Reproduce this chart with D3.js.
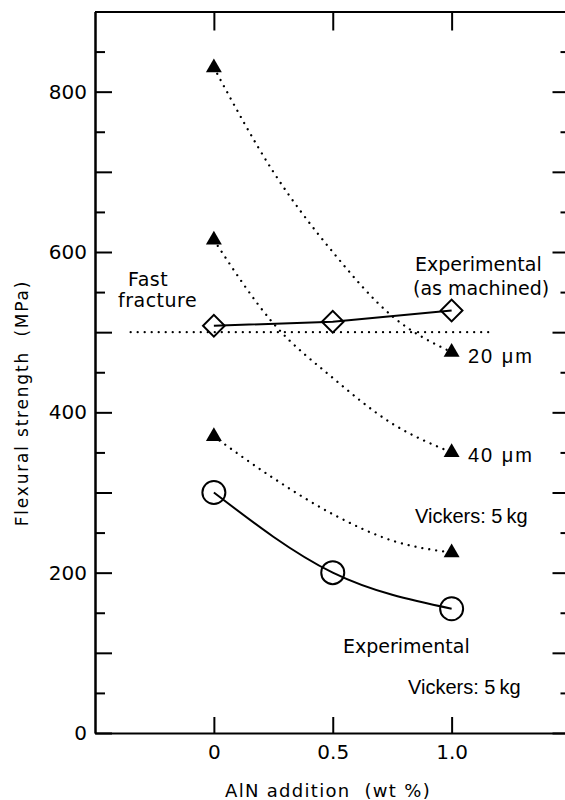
<!DOCTYPE html>
<html>
<head>
<meta charset="utf-8">
<script src="https://cdn.jsdelivr.net/npm/d3@7"></script>
<style>
  html, body { margin: 0; padding: 0; background: #fff; }
  svg { display: block; }
  .axis path, .axis line { stroke: #000; stroke-width: 2; }
  .axis text { font-family: "DejaVu Sans", sans-serif; font-size: 20px; fill: #000; }
  .lbl { font-family: "DejaVu Sans", sans-serif; font-size: 19px; fill: #000; }
  .hel { font-family: "Liberation Sans", Arial, sans-serif; font-size: 20px; fill: #000; }
</style>
</head>
<body>
<svg id="chart" width="565" height="800"></svg>
<script>
// AlN addition (wt %) at which specimens were tested
const aln = [0, 0.5, 1.0];
const xTickValues = [0, 0.5, 1.0];
const xTickLabels = ["0", "0.5", "1.0"];
const yLabelValues = [0, 200, 400, 600, 800];

// Measured flexural strength (MPa)
const machined = [508, 513, 527];        // as machined
const indented = [300, 200, 155];        // Vickers 5 kg indented

// Predicted strength with a surface flaw (MPa), end points at 0 and 1.0 wt %
const flawX = [0, 1.0];
const flaw20 = [830, 475];
const flaw40 = [615, 350];
const flawVickers = [370, 225];

// Traced points along the predicted curves
const traceX = [0, 0.25, 0.5, 0.75, 1.0];
const trace20 = [830, 700, 600, 520, 475];
const trace40 = [615, 511, 443, 386, 350];
const traceVickers = [370, 318, 273, 240, 225];

// Fast fracture reference level
const fastFracture = 500;
const fastFractureSpan = [-0.35, 1.18];

const svg = d3.select("#chart");

const x = d3.scaleLinear().domain([-0.5, 1.5]).range([95, 570.5]);
const y = d3.scaleLinear().domain([0, 900]).range([733, 11.5]);

const major = d3.range(0, 901, 100);
const minor = d3.range(50, 900, 100);

// left axis: long ticks every 100, short every 50, labels every 200
svg.append("g").attr("class", "axis")
  .attr("transform", `translate(${x(-0.5)},0)`)
  .call(d3.axisLeft(y).tickValues(major).tickSizeInner(-17).tickSizeOuter(0).tickPadding(8)
    .tickFormat(d => yLabelValues.includes(d) ? d : ""));
svg.append("g").attr("class", "axis")
  .attr("transform", `translate(${x(-0.5)},0)`)
  .call(d3.axisLeft(y).tickValues(minor).tickSizeInner(-10).tickSizeOuter(0).tickFormat(""));

// right axis (mirror ticks)
svg.append("g").attr("class", "axis")
  .attr("transform", `translate(${x(1.5)},0)`)
  .call(d3.axisRight(y).tickValues(major).tickSizeInner(-18).tickSizeOuter(0).tickFormat(""));
svg.append("g").attr("class", "axis")
  .attr("transform", `translate(${x(1.5)},0)`)
  .call(d3.axisRight(y).tickValues(minor).tickSizeInner(-10).tickSizeOuter(0).tickFormat(""));

// bottom axis
svg.append("g").attr("class", "axis")
  .attr("transform", `translate(0,${y(0)})`)
  .call(d3.axisBottom(x).tickValues(xTickValues).tickSizeInner(-16).tickSizeOuter(0).tickPadding(12)
    .tickFormat((d, i) => xTickLabels[i]));

// top axis
svg.append("g").attr("class", "axis")
  .attr("transform", `translate(0,${y(900)})`)
  .call(d3.axisTop(x).tickValues(xTickValues).tickSizeInner(-19).tickSizeOuter(0).tickFormat(""));

// axis titles
svg.append("text")
  .attr("x", 328).attr("y", 797)
  .attr("text-anchor", "middle")
  .attr("font-family", "DejaVu Sans, sans-serif")
  .attr("font-size", 18)
  .attr("letter-spacing", 1.3)
  .style("white-space", "pre")
  .text("AlN addition  (wt %)");

svg.append("text")
  .attr("transform", "translate(28,403) rotate(-90)")
  .attr("text-anchor", "middle")
  .attr("font-family", "DejaVu Sans, sans-serif")
  .attr("font-size", 17)
  .attr("letter-spacing", 1.8)
  .style("white-space", "pre")
  .text("Flexural strength  (MPa)");

const dotted = sel => sel
  .attr("fill", "none").attr("stroke", "#000")
  .attr("stroke-width", 2.3).attr("stroke-linecap", "round")
  .attr("stroke-dasharray", "0.01 7");

// fast fracture level
svg.append("line")
  .attr("x1", x(fastFractureSpan[0])).attr("x2", x(fastFractureSpan[1]))
  .attr("y1", y(fastFracture)).attr("y2", y(fastFracture))
  .call(dotted);

// predicted curves
const curveLine = d3.line().x(d => x(d[0])).y(d => y(d[1])).curve(d3.curveMonotoneX);
[trace20, trace40, traceVickers].forEach(vals => {
  svg.append("path")
    .attr("d", curveLine(traceX.map((t, i) => [t, vals[i]])))
    .call(dotted);
});

// predicted end points
const tri = d3.symbol().type(d3.symbolTriangle).size(110);
[flaw20, flaw40, flawVickers].forEach(vals => {
  svg.append("g").selectAll("path")
    .data(flawX.map((t, i) => [t, vals[i]]))
    .join("path")
    .attr("d", tri)
    .attr("transform", d => `translate(${x(d[0])},${y(d[1])})`)
    .attr("fill", "#000");
});

// measured: as machined
const straight = d3.line().x(d => x(d[0])).y(d => y(d[1]));
const machinedPts = aln.map((t, i) => [t, machined[i]]);
svg.append("path").attr("d", straight(machinedPts))
  .attr("fill", "none").attr("stroke", "#000").attr("stroke-width", 2);
const diamond = d3.symbol().type(d3.symbolSquare).size(235);
svg.append("g").selectAll("path").data(machinedPts).join("path")
  .attr("d", diamond)
  .attr("transform", d => `translate(${x(d[0])},${y(d[1])}) rotate(45)`)
  .attr("fill", "none").attr("stroke", "#000").attr("stroke-width", 2);

// measured: indented
const indentedPts = aln.map((t, i) => [t, indented[i]]);
svg.append("path").attr("d", curveLine(indentedPts))
  .attr("fill", "none").attr("stroke", "#000").attr("stroke-width", 2);
svg.append("g").selectAll("circle").data(indentedPts).join("circle")
  .attr("cx", d => x(d[0])).attr("cy", d => y(d[1])).attr("r", 11.5)
  .attr("fill", "none").attr("stroke", "#000").attr("stroke-width", 2);

// annotations
const note = (cls, tx, ty, s, ls) => svg.append("text").attr("class", cls)
  .attr("x", tx).attr("y", ty).attr("letter-spacing", ls || 0).style("white-space", "pre").text(s);

note("lbl", 128, 286, "Fast", 0.5);
note("lbl", 118, 307, "fracture", 0.5);
note("lbl", 415, 271, "Experimental", 0);
note("lbl", 413, 295, "(as machined)", 0);
note("hel", 468, 363, "20 μm", 2);
note("hel", 468, 462, "40 μm", 2);
note("hel", 415, 523, "Vickers: 5\u2009kg", 0);
note("lbl", 343, 653, "Experimental", 0);
note("hel", 408, 694, "Vickers: 5\u2009kg", 0);
</script>
</body>
</html>
